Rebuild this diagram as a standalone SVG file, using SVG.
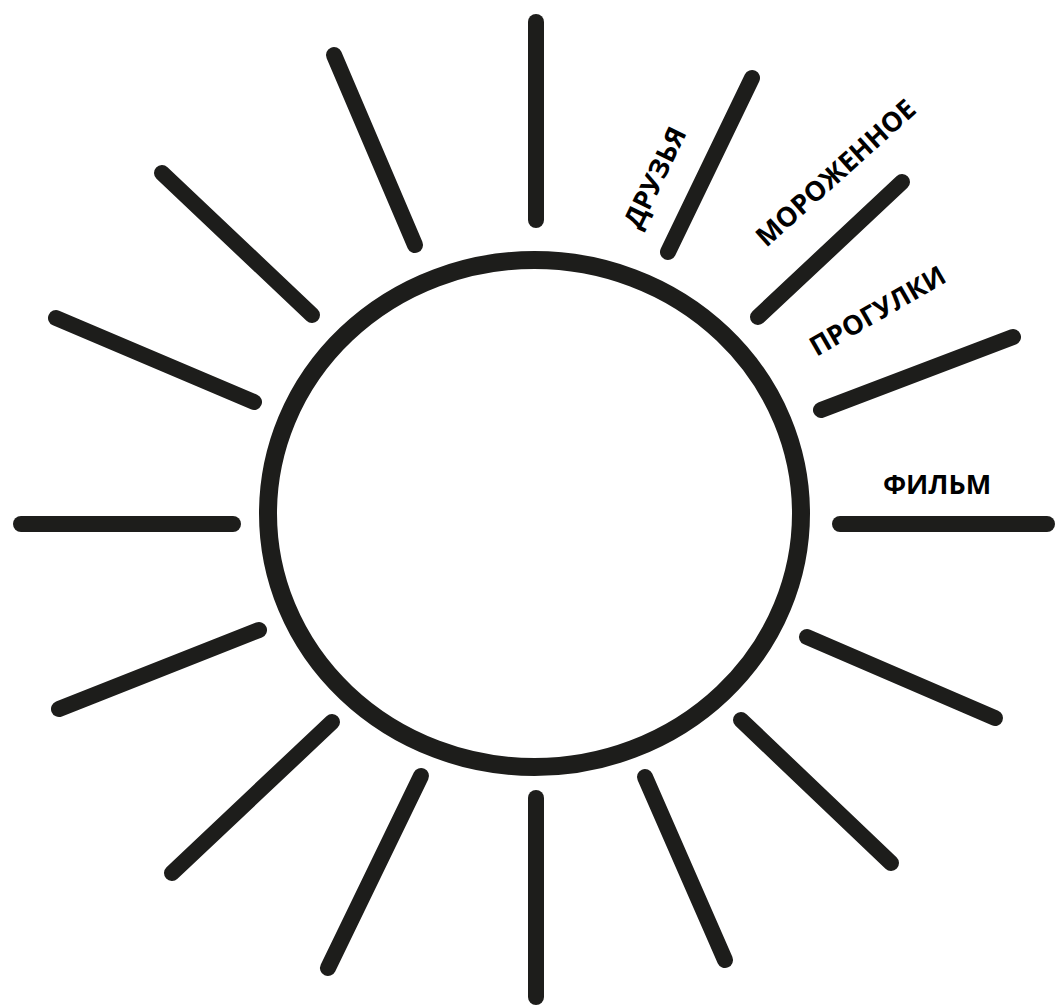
<svg xmlns="http://www.w3.org/2000/svg" width="1056" height="1007" viewBox="0 0 1056 1007">
<style>
.ray{stroke:#1d1d1b;stroke-width:16;stroke-linecap:round;fill:none}
.sun{stroke:#1d1d1b;stroke-width:18;fill:none}
.lbl{font-family:"Open Sans","Liberation Sans",sans-serif;font-weight:700;font-size:27px;fill:#000;text-anchor:middle;dominant-baseline:central}
</style>
<rect width="1056" height="1007" fill="#fff"/>
<g id="sun"><ellipse class="sun" cx="534.5" cy="513.5" rx="266.5" ry="253.5"/></g>
<g id="rays">
<line class="ray" x1="536" y1="22" x2="536" y2="220"/>
<line class="ray" x1="752" y1="78" x2="668" y2="252"/>
<line class="ray" x1="902" y1="182" x2="758" y2="317"/>
<line class="ray" x1="1013" y1="337" x2="821" y2="410"/>
<line class="ray" x1="840" y1="524" x2="1047" y2="524"/>
<line class="ray" x1="807" y1="637" x2="995" y2="718"/>
<line class="ray" x1="741" y1="720" x2="891" y2="863"/>
<line class="ray" x1="645" y1="777" x2="725" y2="960"/>
<line class="ray" x1="536" y1="798" x2="536" y2="997"/>
<line class="ray" x1="421" y1="776" x2="328" y2="968"/>
<line class="ray" x1="332" y1="722" x2="172" y2="873"/>
<line class="ray" x1="259" y1="630" x2="59" y2="709"/>
<line class="ray" x1="21" y1="524" x2="233" y2="524"/>
<line class="ray" x1="56" y1="318" x2="254" y2="402"/>
<line class="ray" x1="162" y1="173" x2="312" y2="315"/>
<line class="ray" x1="334" y1="55" x2="415" y2="245"/>
</g>
<g id="label-druzya"><text class="lbl" transform="translate(654,177) rotate(-64)">ДРУЗЬЯ</text></g>
<g id="label-morozhenoe"><text class="lbl" transform="translate(835,172) rotate(-42)">МОРОЖЕННОЕ</text></g>
<g id="label-progulki"><text class="lbl" transform="translate(877,310) rotate(-30)">ПРОГУЛКИ</text></g>
<g id="label-film"><text class="lbl" transform="translate(937,483)">ФИЛЬМ</text></g>
</svg>
